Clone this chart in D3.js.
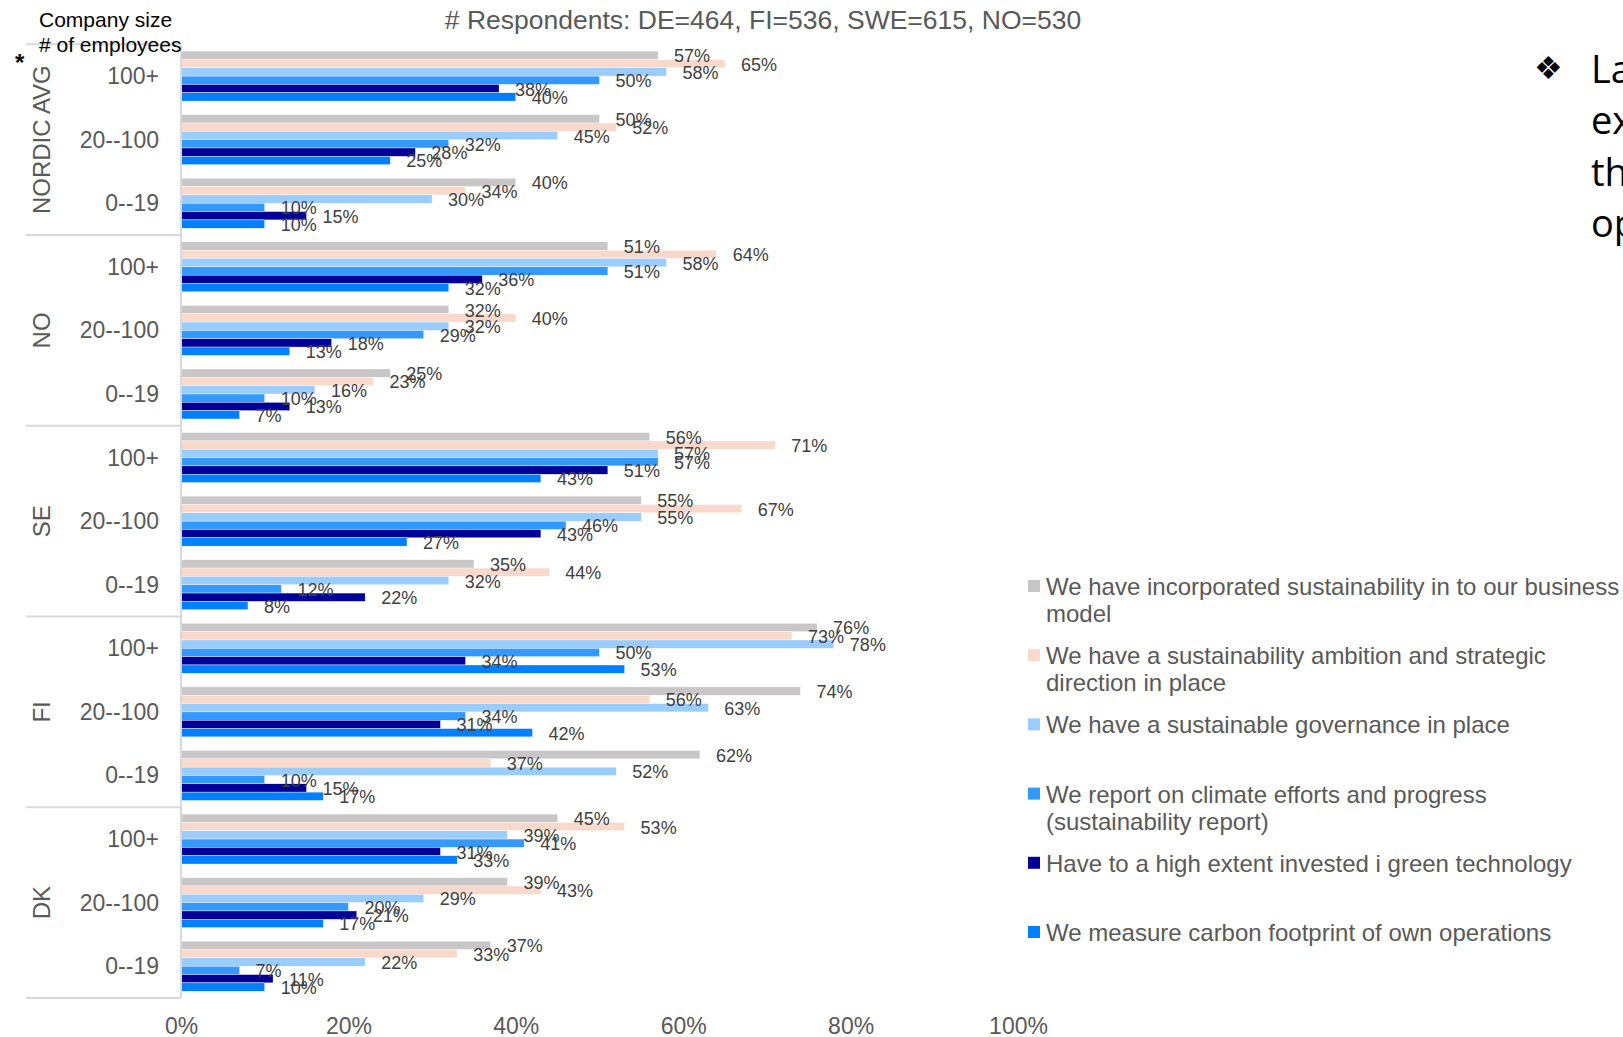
<!DOCTYPE html>
<html><head><meta charset="utf-8">
<script src="https://cdn.jsdelivr.net/npm/d3@7"></script>
<style>
body{margin:0;background:#fff;overflow:hidden}
text{font-family:"Liberation Sans",Arial,sans-serif}
</style>
</head><body><svg id="c" width="1623" height="1037"></svg>
<script>
// ---------- DATA ----------
const countries = ["NORDIC AVG", "NO", "SE", "FI", "DK"];
const sizes = ["100+", "20--100", "0--19"];
const seriesNames = [
  "We have incorporated sustainability in to our business model",
  "We have a sustainability ambition and strategic direction in place",
  "We have a sustainable governance in place",
  "We report on climate efforts and progress (sustainability report)",
  "Have to a high extent invested i green technology",
  "We measure carbon footprint of own operations"
];
const seriesColors = ["#C8C6C7", "#F9D9CB", "#99CCFF", "#3399FF", "#000099", "#0080FF"];
// values per group, order: NORDIC(100+,20--100,0--19), NO(...), SE(...), FI(...), DK(...)
const incorporated = [57, 50, 40, 51, 32, 25, 56, 55, 35, 76, 74, 62, 45, 39, 37];
const ambition     = [65, 52, 34, 64, 40, 23, 71, 67, 44, 73, 56, 37, 53, 43, 33];
const governance   = [58, 45, 30, 58, 32, 16, 57, 55, 32, 78, 63, 52, 39, 29, 22];
const reporting    = [50, 32, 10, 51, 29, 10, 57, 46, 12, 50, 34, 10, 41, 20, 7];
const greenTech    = [38, 28, 15, 36, 18, 13, 51, 43, 22, 34, 31, 15, 31, 21, 11];
const carbon       = [40, 25, 10, 32, 13, 7, 43, 27, 8, 53, 42, 17, 33, 17, 10];
const xTicks = [0, 20, 40, 60, 80, 100];
const titleText = "# Respondents: DE=464, FI=536, SWE=615, NO=530";
const sideText = ["La", "ex", "th", "op"];

// ---------- BUILD ----------
const seriesValues = [incorporated, ambition, governance, reporting, greenTech, carbon];
const groups = [];
countries.forEach(c => sizes.forEach(s => groups.push(c + "|" + s)));
const rows = [];
groups.forEach((g, gi) => seriesValues.forEach((arr, si) => rows.push({g, si, v: arr[gi]})));

const svg = d3.select("#c");
const X0 = 181, X1 = 1018, Y0 = 44.3, Y1 = 998;

const x = d3.scaleLinear().domain([0, 100]).range([X0, X1]);
const y = d3.scaleBand().domain(groups).range([Y0, Y1]).paddingInner(0.214).paddingOuter(0.107);
const ys = d3.scaleBand().domain(d3.range(seriesValues.length)).range([0, y.bandwidth()]);

// bars
svg.append("g").selectAll("rect").data(rows).join("rect")
  .attr("x", X0)
  .attr("y", d => y(d.g) + ys(d.si))
  .attr("width", d => x(d.v) - X0)
  .attr("height", ys.bandwidth())
  .attr("fill", d => seriesColors[d.si])
  .attr("stroke", "#ffffff").attr("stroke-width", 0.4);

// data labels
svg.append("g").selectAll("text").data(rows).join("text")
  .attr("x", d => x(d.v) + 16)
  .attr("y", d => y(d.g) + ys(d.si) + ys.bandwidth() / 2 + 1)
  .attr("dominant-baseline", "central")
  .attr("font-size", 18)
  .attr("fill", "#404040")
  .text(d => d.v + "%");

// axis lines
const countryStep = (Y1 - Y0) / countries.length;
svg.append("line").attr("x1", X0).attr("x2", X0).attr("y1", Y0).attr("y2", Y1)
  .attr("stroke", "#D9D9D9").attr("stroke-width", 2);
svg.append("g").selectAll("line").data(d3.range(countries.length + 1)).join("line")
  .attr("x1", 26).attr("x2", X0)
  .attr("y1", i => Y0 + i * countryStep).attr("y2", i => Y0 + i * countryStep)
  .attr("stroke", "#D9D9D9").attr("stroke-width", 2);

// size labels
svg.append("g").selectAll("text").data(groups).join("text")
  .attr("x", 159)
  .attr("y", g => y(g) + y.bandwidth() / 2)
  .attr("text-anchor", "end").attr("dominant-baseline", "central")
  .attr("font-size", 23).attr("fill", "#595959")
  .text(g => g.split("|")[1]);

// country labels
svg.append("g").selectAll("text").data(countries).join("text")
  .attr("transform", (c, i) => `translate(41,${Y0 + (i + 0.5) * countryStep}) rotate(-90)`)
  .attr("text-anchor", "middle").attr("dominant-baseline", "central")
  .attr("font-size", 24).attr("fill", "#595959")
  .text(c => c);

// x axis
const xa = svg.append("g").attr("transform", `translate(0,${1026})`)
  .call(d3.axisBottom(x).tickValues(xTicks).tickSize(0).tickFormat(d => d + "%"));
xa.select(".domain").remove();
xa.selectAll("text").attr("font-size", 23).attr("fill", "#595959")
  .attr("font-family", "Liberation Sans, Arial, sans-serif")
  .attr("dy", null).attr("y", 0).attr("dominant-baseline", "central");

// title
svg.append("text").attr("x", 763).attr("y", 20)
  .attr("text-anchor", "middle").attr("dominant-baseline", "central")
  .attr("font-size", 26.5).attr("fill", "#595959").text(titleText);

// header
svg.append("text").attr("x", 39).attr("y", 19).attr("dominant-baseline", "central")
  .attr("font-size", 21).attr("fill", "#000").text("Company size");
svg.append("text").attr("x", 39).attr("y", 44).attr("dominant-baseline", "central")
  .attr("font-size", 21).attr("fill", "#000").text("# of employees");
svg.append("text").attr("x", 15).attr("y", 71).attr("font-size", 24).attr("font-weight", "bold")
  .attr("fill", "#000").text("*");

// legend
const legX = 1028, legY = 586, legStep = 69.2, legLine = 27, legMax = 580;
const leg = svg.append("g");
seriesNames.forEach((name, i) => {
  const gy = legY + i * legStep;
  leg.append("rect").attr("x", legX).attr("y", gy - 6).attr("width", 12).attr("height", 12)
    .attr("fill", seriesColors[i]);
  const t = leg.append("text").attr("x", legX + 18).attr("y", gy)
    .attr("font-size", 24).attr("fill", "#595959").attr("dominant-baseline", "central");
  const words = name.split(" ");
  let line = [], lineNo = 0;
  let ts = t.append("tspan").attr("x", legX + 18).attr("y", gy);
  words.forEach(w => {
    line.push(w);
    ts.text(line.join(" "));
    if (ts.node().getComputedTextLength() > legMax && line.length > 1) {
      line.pop(); ts.text(line.join(" "));
      line = [w]; lineNo++;
      ts = t.append("tspan").attr("x", legX + 18).attr("y", gy + lineNo * legLine).text(w);
    }
  });
});

// side text (clipped by page edge)
svg.append("text").attr("x", 1534).attr("y", 68).attr("dominant-baseline", "central")
  .attr("font-family", "DejaVu Sans").attr("font-size", 32).attr("fill", "#000").text("\u2756");
svg.append("g").selectAll("text").data(sideText).join("text")
  .attr("x", 1591).attr("y", (d, i) => 68 + i * 51.3)
  .attr("dominant-baseline", "central")
  .style("font-family", "'Open Sans', sans-serif").attr("font-size", 38).attr("fill", "#000")
  .text(d => d);
</script>
</body></html>
